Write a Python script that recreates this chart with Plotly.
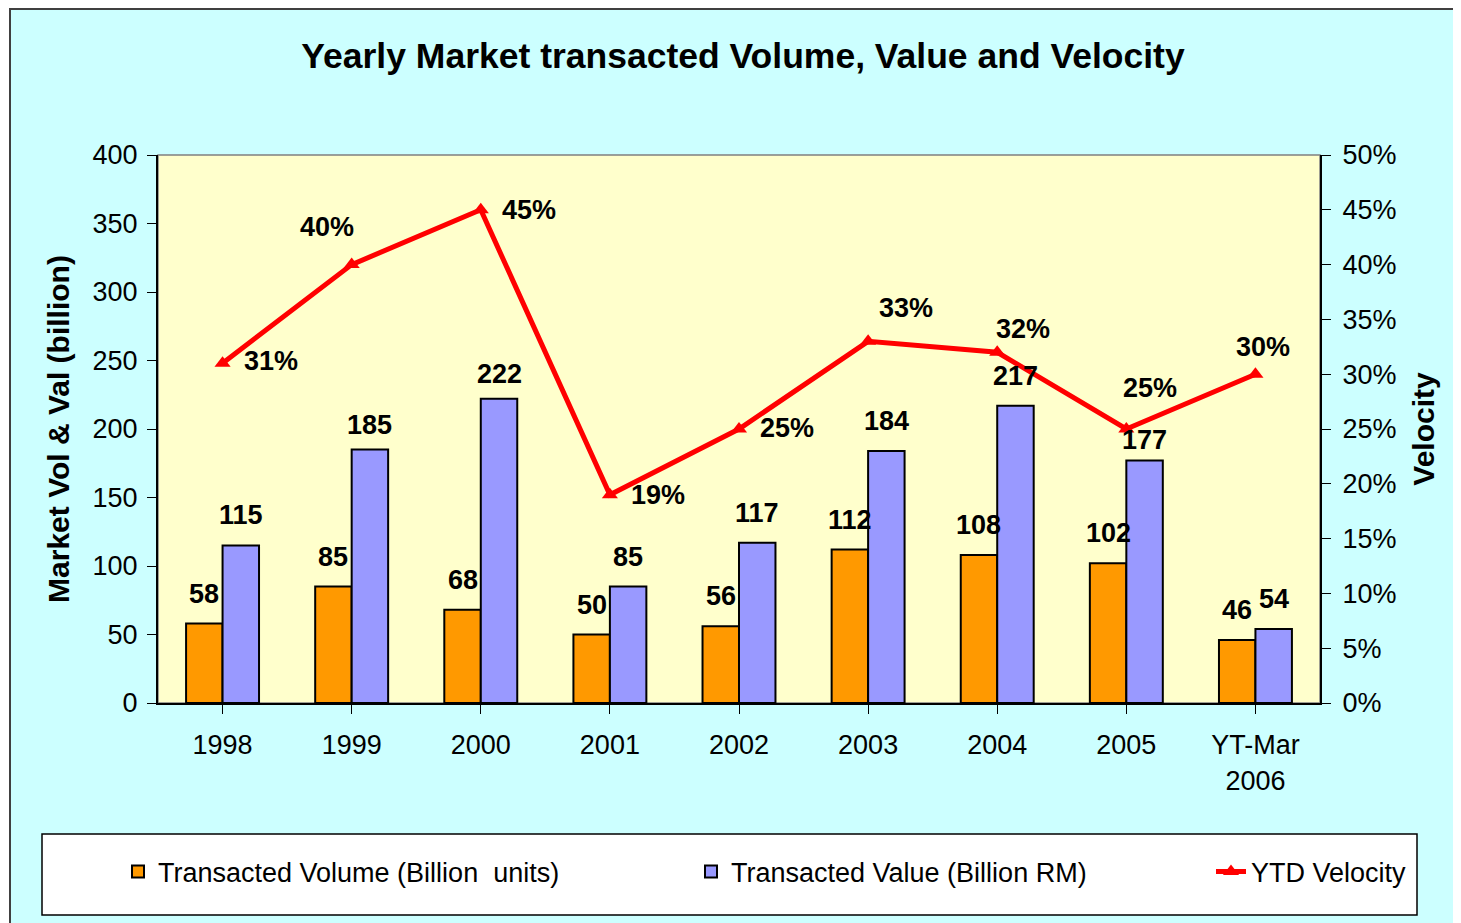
import plotly.graph_objects as go

# ---- data ----
years = ["1998", "1999", "2000", "2001", "2002", "2003", "2004", "2005", "YT-Mar<br>2006"]
volume = [58, 85, 68, 50, 56, 112, 108, 102, 46]
value = [115, 185, 222, 85, 117, 184, 217, 177, 54]
velocity = [0.31, 0.40, 0.45, 0.19, 0.25, 0.33, 0.32, 0.25, 0.30]
left_ticks = [0, 50, 100, 150, 200, 250, 300, 350, 400]

# ---- style / layout constants ----
OFF = 8                                # page body margin
W, H = 1461 - OFF, 923 - OFF
# plot area in page px
PL, PR, PT, PB = 158, 1320, 155, 703
FONT = "Liberation Sans, Arial, sans-serif"
ORANGE = "#FF9900"
BLUE = "#9999FF"
RED = "#FF0000"
vel_offsets = [(48, -2), (-25, -38), (48, 0), (48, 0), (48, -1), (38, -33), (26, -23), (24, -41), (8, -27)]
value_rise = [30, 25, 25, 30, 30, 30, 30, 21, 30]
BAR_HALF = 18.25
LABEL_RISE = 30
TICK_SIZE = 27
LABEL_SIZE = 27


def px_to_paper_x(px):
    return (px - PL) / (PR - PL)


def px_to_paper_y(py):
    return (PB - py) / (PB - PT)


idx = list(range(len(years)))

fig = go.Figure()
fig.add_trace(go.Bar(
    x=idx, y=volume, name="Transacted Volume (Billion  units)",
    marker=dict(color=ORANGE, line=dict(color="black", width=2)),
    legend="legend",
))
fig.add_trace(go.Bar(
    x=idx, y=value, name="Transacted Value (Billion RM)",
    marker=dict(color=BLUE, line=dict(color="black", width=2)),
    legend="legend2",
))
fig.add_trace(go.Scatter(
    x=idx, y=velocity, name="YTD Velocity", yaxis="y2",
    mode="lines+markers",
    line=dict(color=RED, width=5),
    marker=dict(symbol="triangle-up", size=14, color=RED),
    legend="legend3",
))

annotations = []
for i, v in zip(idx, volume):
    annotations.append(dict(x=i, y=v, xref="x", yref="y", text=f"<b>{v}</b>",
                            showarrow=False, xshift=-BAR_HALF, yshift=LABEL_RISE,
                            font=dict(family=FONT, size=LABEL_SIZE, color="black")))
for i, v, rise in zip(idx, value, value_rise):
    annotations.append(dict(x=i, y=v, xref="x", yref="y", text=f"<b>{v}</b>",
                            showarrow=False, xshift=BAR_HALF, yshift=rise,
                            font=dict(family=FONT, size=LABEL_SIZE, color="black")))
for i, v, (dx, dy) in zip(idx, velocity, vel_offsets):
    annotations.append(dict(x=i, y=v, xref="x", yref="y2", text=f"<b>{round(v*100)}%</b>",
                            showarrow=False, xshift=dx, yshift=-dy,
                            font=dict(family=FONT, size=LABEL_SIZE, color="black")))

shapes = [
    # chart area background with border
    dict(type="rect", xref="paper", yref="paper", layer="below",
         x0=px_to_paper_x(10), x1=px_to_paper_x(1480),
         y0=px_to_paper_y(940), y1=px_to_paper_y(9),
         fillcolor="#CCFFFF", line=dict(color="#404040", width=2)),
    # plot area
    dict(type="rect", xref="paper", yref="paper", layer="below",
         x0=0, x1=1, y0=0, y1=1,
         fillcolor="#FFFFCC", line=dict(color="#808080", width=1.5)),
    # legend box
    dict(type="rect", xref="paper", yref="paper", layer="below",
         x0=px_to_paper_x(42), x1=px_to_paper_x(1417),
         y0=px_to_paper_y(915), y1=px_to_paper_y(834),
         fillcolor="white", line=dict(color="black", width=1.5)),
]

legend_common = dict(orientation="h", bgcolor="rgba(0,0,0,0)", borderwidth=0,
                     font=dict(family=FONT, size=27, color="black"),
                     yanchor="middle", xanchor="left", y=px_to_paper_y(872))

fig.update_layout(
    width=W, height=H,
    margin=dict(l=PL - OFF, r=W - (PR - OFF), t=PT - OFF, b=H - (PB - OFF), autoexpand=False),
    paper_bgcolor="white",
    plot_bgcolor="#FFFFCC",
    barmode="group", bargap=0.435, bargroupgap=0,
    title=dict(text="<b>Yearly Market transacted Volume, Value and Velocity</b>",
               xref="container", x=(743 - OFF) / W, xanchor="center",
               yref="container", y=1 - (56 - OFF) / H, yanchor="middle",
               font=dict(family=FONT, size=35.5, color="black")),
    font=dict(family=FONT, color="black"),
    xaxis=dict(range=[-0.5, len(years) - 0.5], tickvals=idx, ticktext=years,
               tickson="boundaries", ticks="outside", ticklen=9, tickangle=0,
               tickcolor="black", tickwidth=1, showline=True, linecolor="black", linewidth=2,
               showgrid=False, zeroline=False,
               tickfont=dict(family=FONT, size=TICK_SIZE, color="black"),
               ticklabelstandoff=8, fixedrange=True),
    yaxis=dict(range=[0, 400], tickvals=left_ticks, ticks="outside", ticklen=9,
               tickcolor="black", showline=True, linecolor="black", linewidth=2,
               showgrid=False, zeroline=False,
               tickfont=dict(family=FONT, size=TICK_SIZE, color="black"), ticklabelstandoff=4,
               title=dict(text="<b>Market Vol & Val (billion)</b>", standoff=14,
                          font=dict(family=FONT, size=30, color="black"))),
    yaxis2=dict(range=[0, 0.5], dtick=0.05, tickformat=".0%", overlaying="y", side="right",
                ticks="outside", ticklen=9, tickcolor="black", showline=True,
                linecolor="black", linewidth=2, showgrid=False, zeroline=False,
                tickfont=dict(family=FONT, size=TICK_SIZE, color="black"), ticklabelstandoff=6,
                title=dict(text="<b>Velocity</b>", standoff=18,
                           font=dict(family=FONT, size=30, color="black"))),
    legend=dict(**legend_common, x=px_to_paper_x(118)),
    legend2=dict(**legend_common, x=px_to_paper_x(691)),
    legend3=dict(**legend_common, x=px_to_paper_x(1211)),
    annotations=annotations,
    shapes=shapes,
    showlegend=True,
)

fig.write_html("out.html")
